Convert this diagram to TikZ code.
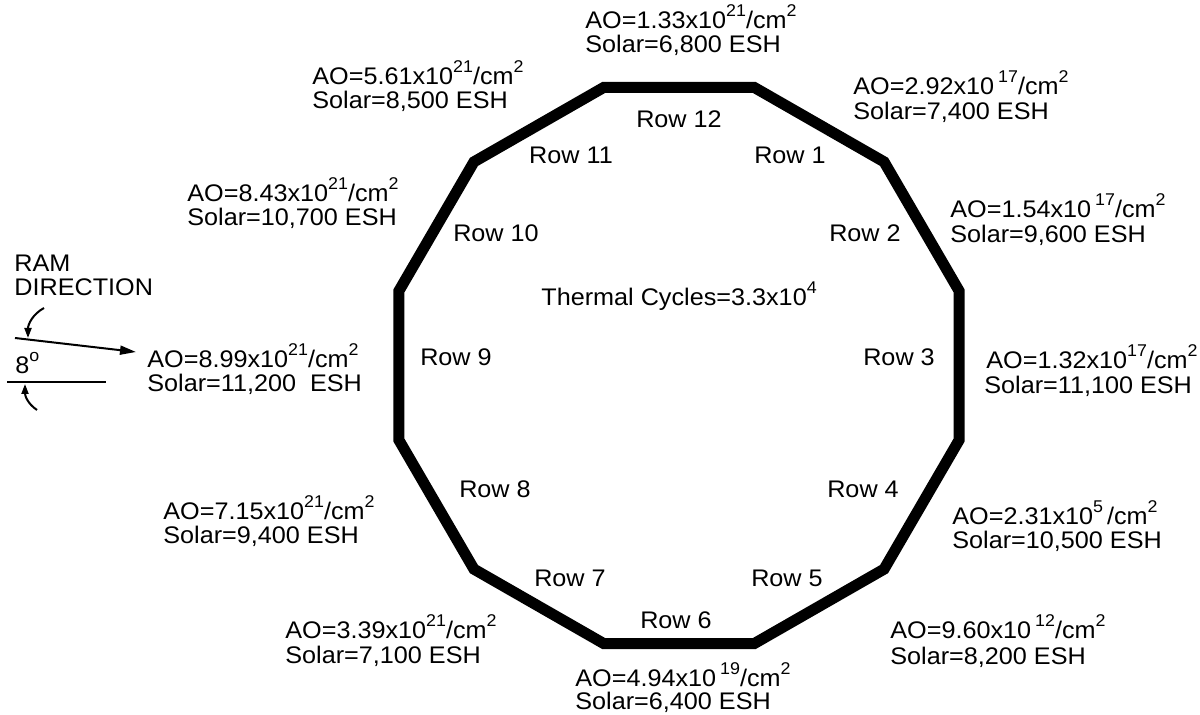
\documentclass[tikz,border=0pt]{standalone}
\usepackage{fontspec}
\setmainfont{Liberation Sans}[FakeStretch=1.05]
\usetikzlibrary{arrows.meta}
\newcommand{\supr}[1]{\raisebox{6pt}{\fontsize{8.5}{9}\selectfont #1}}
\begin{document}
\begin{tikzpicture}[x=0.5pt,y=-0.5pt,
  lab/.style={inner sep=0pt, anchor=base west, font=\fontsize{12}{13}\selectfont},
  rowlab/.style={inner sep=0pt, font=\fontsize{12}{13}\selectfont},
  hull/.style={line width=5.5pt, line join=miter, black},
  thin/.style={line width=1pt, black}]
% canvas
\path[fill=white] (0,0) rectangle (1200,715);
\useasboundingbox (0,0) rectangle (1200,715);

% twelve-sided outline of the carrier
\foreach \i in {0,...,11}
  \coordinate (v\i) at ({679+290*cos(15+30*\i)},{365.5+288*sin(15+30*\i)});
\draw[hull] (v0) -- (v1) -- (v2) -- (v3) -- (v4) -- (v5) -- (v6) -- (v7)
  -- (v8) -- (v9) -- (v10) -- (v11) -- cycle;

% row labels inside the outline
\node[rowlab] (r12) at (679,119) {Row 12};
\node[rowlab] (r1)  at (790,155) {Row 1};
\node[rowlab] (r2)  at (865,233) {Row 2};
\node[rowlab] (r3)  at (899,357) {Row 3};
\node[rowlab] (r4)  at (863,489) {Row 4};
\node[rowlab] (r5)  at (787,578) {Row 5};
\node[rowlab] (r6)  at (676,620) {Row 6};
\node[rowlab] (r7)  at (570,578) {Row 7};
\node[rowlab] (r8)  at (495,489) {Row 8};
\node[rowlab] (r9)  at (456,357) {Row 9};
\node[rowlab] (r10) at (496,233) {Row 10};
\node[rowlab] (r11) at (571,155) {Row 11};
\node[lab] (tc) at (541,306) {Thermal Cycles=3.3x10\supr{4}};

% exposure data beside each row
\node[lab] (ao12) at (585,29)  {AO=1.33x10\supr{21}/cm\supr{2}};
\node[lab] (so12) at (585,53)  {Solar=6,800 ESH};
\node[lab] (ao1)  at (853,95)  {AO=2.92x10\,\supr{17}/cm\supr{2}};
\node[lab] (so1)  at (853,120) {Solar=7,400 ESH};
\node[lab] (ao2)  at (950,218) {AO=1.54x10\,\supr{17}/cm\supr{2}};
\node[lab] (so2)  at (950,243) {Solar=9,600 ESH};
\node[lab] (ao3)  at (986,369) {AO=1.32x10\supr{17}/cm\supr{2}};
\node[lab] (so3)  at (984,394) {Solar=11,100 ESH};
\node[lab] (ao4)  at (952,525) {AO=2.31x10\supr{5}\,/cm\supr{2}};
\node[lab] (so4)  at (952,549) {Solar=10,500 ESH};
\node[lab] (ao5)  at (890,639) {AO=9.60x10\,\supr{12}/cm\supr{2}};
\node[lab] (so5)  at (890,665) {Solar=8,200 ESH};
\node[lab] (ao6)  at (575,687) {AO=4.94x10\,\supr{19}/cm\supr{2}};
\node[lab] (so6)  at (575,710) {Solar=6,400 ESH};
\node[lab] (ao7)  at (285,639) {AO=3.39x10\supr{21}/cm\supr{2}};
\node[lab] (so7)  at (285,664) {Solar=7,100 ESH};
\node[lab] (ao8)  at (163,520) {AO=7.15x10\supr{21}/cm\supr{2}};
\node[lab] (so8)  at (163,544) {Solar=9,400 ESH};
\node[lab] (ao9)  at (147,368) {AO=8.99x10\supr{21}/cm\supr{2}};
\node[lab] (so9)  at (147,392) {Solar=11,200\ \ ESH};
\node[lab] (ao10) at (187,202) {AO=8.43x10\supr{21}/cm\supr{2}};
\node[lab] (so10) at (187,226) {Solar=10,700 ESH};
\node[lab] (ao11) at (312,85)  {AO=5.61x10\supr{21}/cm\supr{2}};
\node[lab] (so11) at (312,109) {Solar=8,500 ESH};

% ram direction indicator
\node[lab] (ram) at (14,272) {RAM};
\node[lab] (dir) at (14,296) {DIRECTION};
\coordinate (ramA) at (15,338);
\coordinate (ramB) at (136,352);
\draw[thin, -{Triangle[length=8pt,width=4.5pt]}] (ramA) -- (ramB);
\coordinate (hA) at (7,382);
\coordinate (hB) at (106,382);
\draw[thin] (hA) -- (hB);
\node[lab] (ang) at (15,374) {8\supr{o}};
\coordinate (c1s) at (44,308);
\coordinate (c1e) at (28,338);
\draw[thin, -{Triangle[length=5pt,width=3.5pt]}] (c1s) .. controls (33,314) and (28,324) .. (c1e);
\coordinate (c2s) at (37,410);
\coordinate (c2e) at (25,384);
\draw[thin, -{Triangle[length=5pt,width=3.5pt]}] (c2s) .. controls (28,404) and (25,396) .. (c2e);
\end{tikzpicture}
\end{document}
